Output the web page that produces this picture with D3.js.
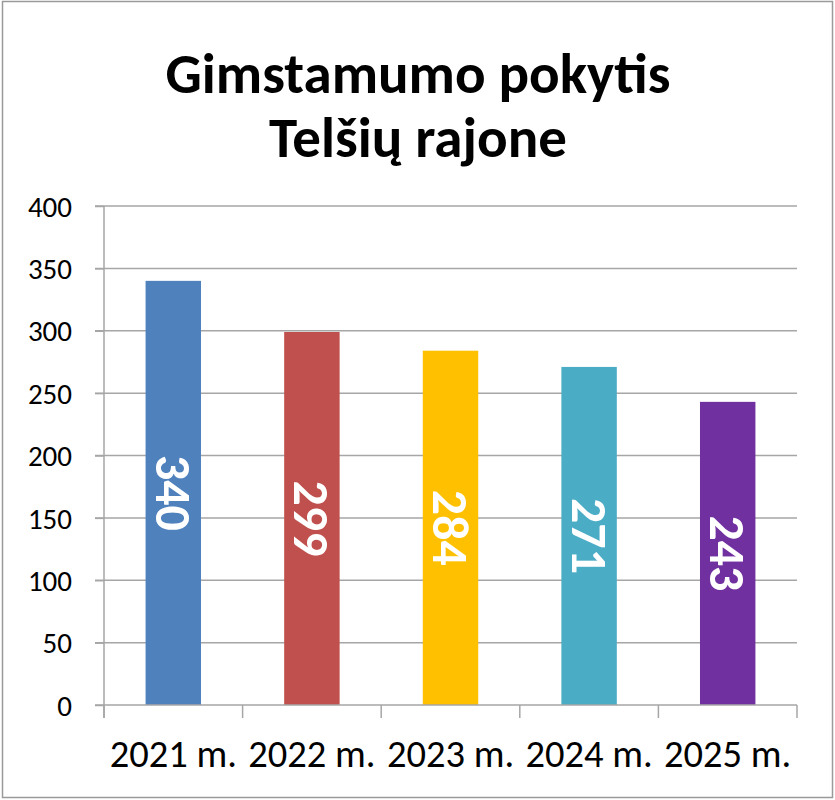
<!DOCTYPE html>
<html>
<head>
<meta charset="utf-8">
<script src="https://cdn.jsdelivr.net/npm/d3@7"></script>
<style>
    html, body { margin: 0; padding: 0; background: #fff; }
    svg { display: block; font-family: Carlito, Calibri, Lato, sans-serif; }
    svg text { font-family: Carlito, Calibri, Lato, sans-serif; }
    .grid line { stroke: #a6a6a6; stroke-width: 1.5; }
    .axis path, .axis line { stroke: #a6a6a6; stroke-width: 1.5; }
</style>
</head>
<body>
<div class="chart"></div>
<script>
(function () {
    const years = ['2021 m.', '2022 m.', '2023 m.', '2024 m.', '2025 m.'];
    const births = [340, 299, 284, 271, 243];
    const barColors = ['#4f81bd', '#c0504d', '#ffc000', '#4bacc6', '#7030a0'];
    const yTicks = [0, 50, 100, 150, 200, 250, 300, 350, 400];
    const titleLines = ['Gimstamumo pokytis', 'Telšių rajone'];

    const width = 835, height = 800;
    const plot = { left: 104, right: 797, top: 206, bottom: 705 };

    let svg = d3.select('.chart').append('svg')
        .attr('width', width)
        .attr('height', height);

    // outer frame
    svg.append('rect')
        .attr('x', 2.5).attr('y', 1.5)
        .attr('width', 830).attr('height', 796)
        .attr('fill', '#fff')
        .attr('stroke', '#9a9a9a')
        .attr('stroke-width', 1.5);

    let x = d3.scaleBand()
        .domain(years)
        .range([plot.left, plot.right])
        .paddingInner(0.6)
        .paddingOuter(0.3);

    let y = d3.scaleLinear()
        .domain([0, 400])
        .range([plot.bottom, plot.top]);

    // title
    svg.append('text')
        .attr('text-anchor', 'middle')
        .attr('font-weight', 'bold')
        .attr('font-size', 57)
        .selectAll('tspan')
        .data(titleLines)
        .join('tspan')
        .attr('x', 418)
        .attr('y', (d, i) => 93 + i * 64)
        .text(d => d);

    // gridlines
    svg.append('g')
        .classed('grid', true)
        .selectAll('line')
        .data(yTicks.slice(1))
        .join('line')
        .attr('x1', plot.left - 9)
        .attr('x2', plot.right)
        .attr('y1', d => y(d))
        .attr('y2', d => y(d));

    // y axis
    let yAxis = svg.append('g')
        .classed('axis', true)
        .attr('transform', `translate(${plot.left},0)`)
        .call(d3.axisLeft(y).tickValues(yTicks).tickSize(9).tickSizeOuter(0).tickPadding(0));
    yAxis.attr('font-family', null).attr('font-size', 29);
    yAxis.select('.domain').attr('d', `M0,${plot.top}V${plot.bottom + 13}`);
    yAxis.selectAll('text')
        .attr('x', -32)
        .attr('dy', '0.35em')
        .attr('fill', '#000');

    // bars
    svg.append('g')
        .selectAll('rect')
        .data(births)
        .join('rect')
        .attr('x', (d, i) => x(years[i]))
        .attr('y', d => y(d))
        .attr('width', x.bandwidth())
        .attr('height', d => y(0) - y(d))
        .attr('fill', (d, i) => barColors[i]);

    // x axis: ticks between categories
    let boundaries = years.map(d => x(d) - x.step() * 0.3).concat([plot.right]);
    let xAxis = svg.append('g').classed('axis', true);
    xAxis.append('line')
        .attr('x1', plot.left - 9).attr('x2', plot.right)
        .attr('y1', y(0)).attr('y2', y(0));
    xAxis.selectAll('line.tick')
        .data(boundaries)
        .join('line')
        .attr('class', 'tick')
        .attr('x1', d => d).attr('x2', d => d)
        .attr('y1', y(0)).attr('y2', y(0) + 13);

    svg.append('g')
        .selectAll('text')
        .data(years)
        .join('text')
        .attr('x', d => x(d) + x.bandwidth() / 2)
        .attr('y', 767)
        .attr('text-anchor', 'middle')
        .attr('font-size', 38.5)
        .text(d => d);

    // value labels, rotated inside the bars
    svg.append('g')
        .selectAll('text')
        .data(births)
        .join('text')
        .attr('transform', (d, i) => `translate(${x(years[i]) + x.bandwidth() / 2},${(y(d) + y(0)) / 2}) rotate(90)`)
        .attr('text-anchor', 'middle')
        .attr('dy', '0.35em')
        .attr('font-size', 50)
        .attr('font-weight', 'bold')
        .attr('fill', '#fff')
        .text(d => d);
})();
</script>
</body>
</html>
